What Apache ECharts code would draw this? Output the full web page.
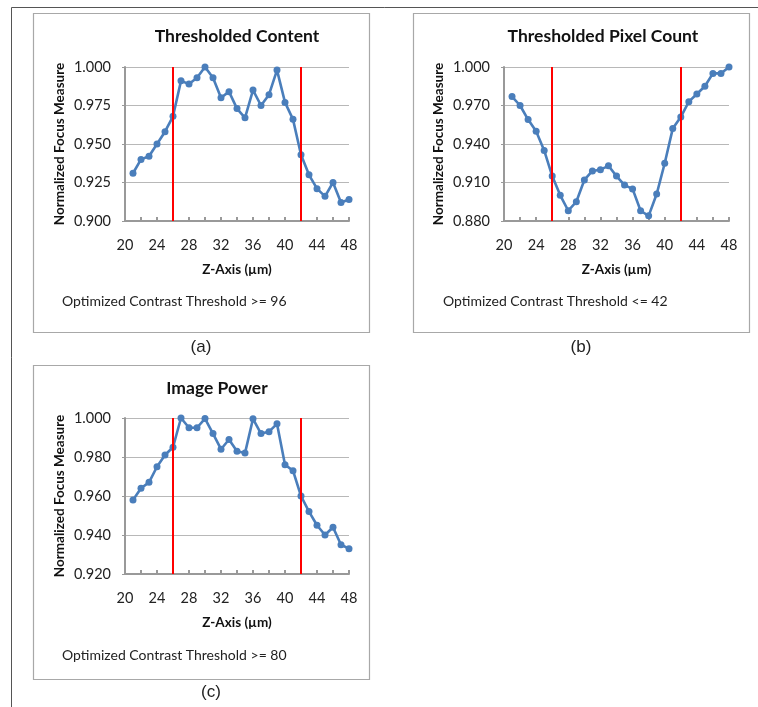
<!DOCTYPE html>
<html>
<head>
<meta charset="utf-8">
<script src="https://cdn.jsdelivr.net/npm/echarts@6/dist/echarts.min.js"></script>
<style>
  html, body { margin: 0; padding: 0; background: #fff; }
  #main { width: 758px; height: 707px; }
</style>
</head>
<body>
<div id="main"></div>
<script>
// z positions (um)
var zAxis = [21, 22, 23, 24, 25, 26, 27, 28, 29, 30, 31, 32, 33, 34, 35, 36, 37, 38, 39, 40, 41, 42, 43, 44, 45, 46, 47, 48];

// (a) thresholded content
var contentVals = [0.931, 0.940, 0.942, 0.950, 0.958, 0.968, 0.991, 0.989, 0.993, 1.000, 0.993, 0.980, 0.984, 0.973, 0.967, 0.985, 0.975, 0.982, 0.998, 0.977, 0.966, 0.943, 0.930, 0.921, 0.916, 0.925, 0.912, 0.914];
// (b) thresholded pixel count
var pixelVals = [0.977, 0.970, 0.959, 0.950, 0.935, 0.915, 0.900, 0.888, 0.895, 0.912, 0.919, 0.920, 0.923, 0.915, 0.908, 0.905, 0.888, 0.884, 0.901, 0.925, 0.952, 0.961, 0.973, 0.979, 0.985, 0.995, 0.995, 1.000];
// (c) image power
var powerVals = [0.958, 0.964, 0.967, 0.975, 0.981, 0.985, 1.000, 0.995, 0.995, 0.9997, 0.992, 0.984, 0.989, 0.983, 0.982, 0.9996, 0.992, 0.993, 0.997, 0.976, 0.973, 0.960, 0.952, 0.945, 0.940, 0.944, 0.935, 0.933];

var redLines = [26, 42];

var xTicks = [20, 22, 24, 26, 28, 30, 32, 34, 36, 38, 40, 42, 44, 46, 48];
var xLabels = [20, 24, 28, 32, 36, 40, 44, 48];
var yTicksA = [0.900, 0.925, 0.950, 0.975, 1.000];
var yTicksB = [0.880, 0.910, 0.940, 0.970, 1.000];
var yTicksC = [0.920, 0.940, 0.960, 0.980, 1.000];

var titles = ['Thresholded Content', 'Thresholded Pixel Count', 'Image Power'];
var notes = ['Optimized Contrast Threshold >= 96', 'Optimized Contrast Threshold <= 42', 'Optimized Contrast Threshold >= 80'];
var letters = ['(a)', '(b)', '(c)'];

var FONT = 'Lato, "Noto Sans", sans-serif';
var blue = '#4a7ebb';

var chart = echarts.init(document.getElementById('main'));

// plot areas
var grids = [
    {left: 125, top: 67, width: 224, height: 154},
    {left: 504, top: 67, width: 225, height: 154},
    {left: 125, top: 418, width: 224, height: 156}
];

function xAx(i) {
    return {
        gridIndex: i, type: 'value', min: 20, max: 48,
        name: 'Z-Axis (µm)', nameLocation: 'middle', nameGap: 42,
        nameTextStyle: {fontFamily: FONT, fontWeight: 'bold', fontSize: 13.5, color: '#111'},
        axisLine: {lineStyle: {color: '#999', width: 2}},
        axisTick: {show: true, inside: true, length: 4, lineStyle: {color: '#999', width: 2}, customValues: xTicks},
        axisLabel: {fontFamily: FONT, fontSize: 14.5, color: '#222', margin: 17, customValues: xLabels},
        splitLine: {show: false}
    };
}

function yAx(i, ticks) {
    return {
        gridIndex: i, type: 'value', min: ticks[0], max: ticks[ticks.length - 1],
        name: 'Normalized Focus Measure', nameLocation: 'middle', nameGap: 58,
        nameTextStyle: {fontFamily: FONT, fontWeight: 'bold', fontSize: 13.5, color: '#111'},
        axisLine: {show: true, lineStyle: {color: '#999', width: 2}},
        axisTick: {show: true, length: 3, lineStyle: {color: '#999'}, customValues: ticks},
        axisLabel: {fontFamily: FONT, fontSize: 14.5, color: '#222', margin: 14, customValues: ticks,
            formatter: function (v) { return v.toFixed(3); }},
        splitLine: {show: true, lineStyle: {color: '#b8b8b8', width: 1}}
    };
}

function pairs(vals) {
    return zAxis.map(function (z, k) { return [z, vals[k]]; });
}

function lineSeries(i, vals) {
    return {
        type: 'line', xAxisIndex: i, yAxisIndex: i,
        data: pairs(vals),
        symbol: 'circle', symbolSize: 7,
        itemStyle: {color: blue},
        lineStyle: {color: blue, width: 2.6},
        markLine: {
            silent: true, symbol: 'none', label: {show: false},
            lineStyle: {color: '#ff0000', width: 2, type: 'solid'},
            data: redLines.map(function (r) { return {xAxis: r}; })
        }
    };
}

// panel boxes and text
var panels = [
    {x: 33, y: 13, w: 336, h: 319, cx: 237, ty: 36, nx: 62, ny: 301, lx: 201, ly: 347},
    {x: 413, y: 13, w: 336, h: 319, cx: 603, ty: 36, nx: 443, ny: 301, lx: 581, ly: 347},
    {x: 33, y: 365, w: 336, h: 314, cx: 217, ty: 388, nx: 62, ny: 655, lx: 211, ly: 692}
];

var graphics = [
    {type: 'line', shape: {x1: 11.5, y1: 7.5, x2: 758, y2: 7.5}, style: {stroke: '#555', lineWidth: 1}},
    {type: 'line', shape: {x1: 11.5, y1: 7.5, x2: 11.5, y2: 707}, style: {stroke: '#555', lineWidth: 1}}
];
panels.forEach(function (p, i) {
    graphics.push({type: 'rect', shape: {x: p.x + 0.5, y: p.y + 0.5, width: p.w, height: p.h},
        style: {fill: 'none', stroke: '#a8a8a8', lineWidth: 1.2}, z: -1});
    graphics.push({type: 'text', x: p.cx, y: p.ty,
        style: {text: titles[i], font: 'bold 17.5px ' + FONT, fill: '#111',
            align: 'center', verticalAlign: 'middle', textAlign: 'center', textVerticalAlign: 'middle'}});
    graphics.push({type: 'text', x: p.nx, y: p.ny,
        style: {text: notes[i], font: '14px ' + FONT, fill: '#222',
            align: 'left', verticalAlign: 'middle', textAlign: 'left', textVerticalAlign: 'middle'}});
    graphics.push({type: 'text', x: p.lx, y: p.ly,
        style: {text: letters[i], font: '17px "Liberation Sans", Arial, sans-serif', fill: '#222',
            align: 'center', verticalAlign: 'middle', textAlign: 'center', textVerticalAlign: 'middle'}});
});

var option = {
    animation: false,
    backgroundColor: '#fff',
    grid: grids,
    xAxis: [xAx(0), xAx(1), xAx(2)],
    yAxis: [yAx(0, yTicksA), yAx(1, yTicksB), yAx(2, yTicksC)],
    series: [lineSeries(0, contentVals), lineSeries(1, pixelVals), lineSeries(2, powerVals)],
    graphic: graphics
};

chart.setOption(option);
</script>
</body>
</html>
